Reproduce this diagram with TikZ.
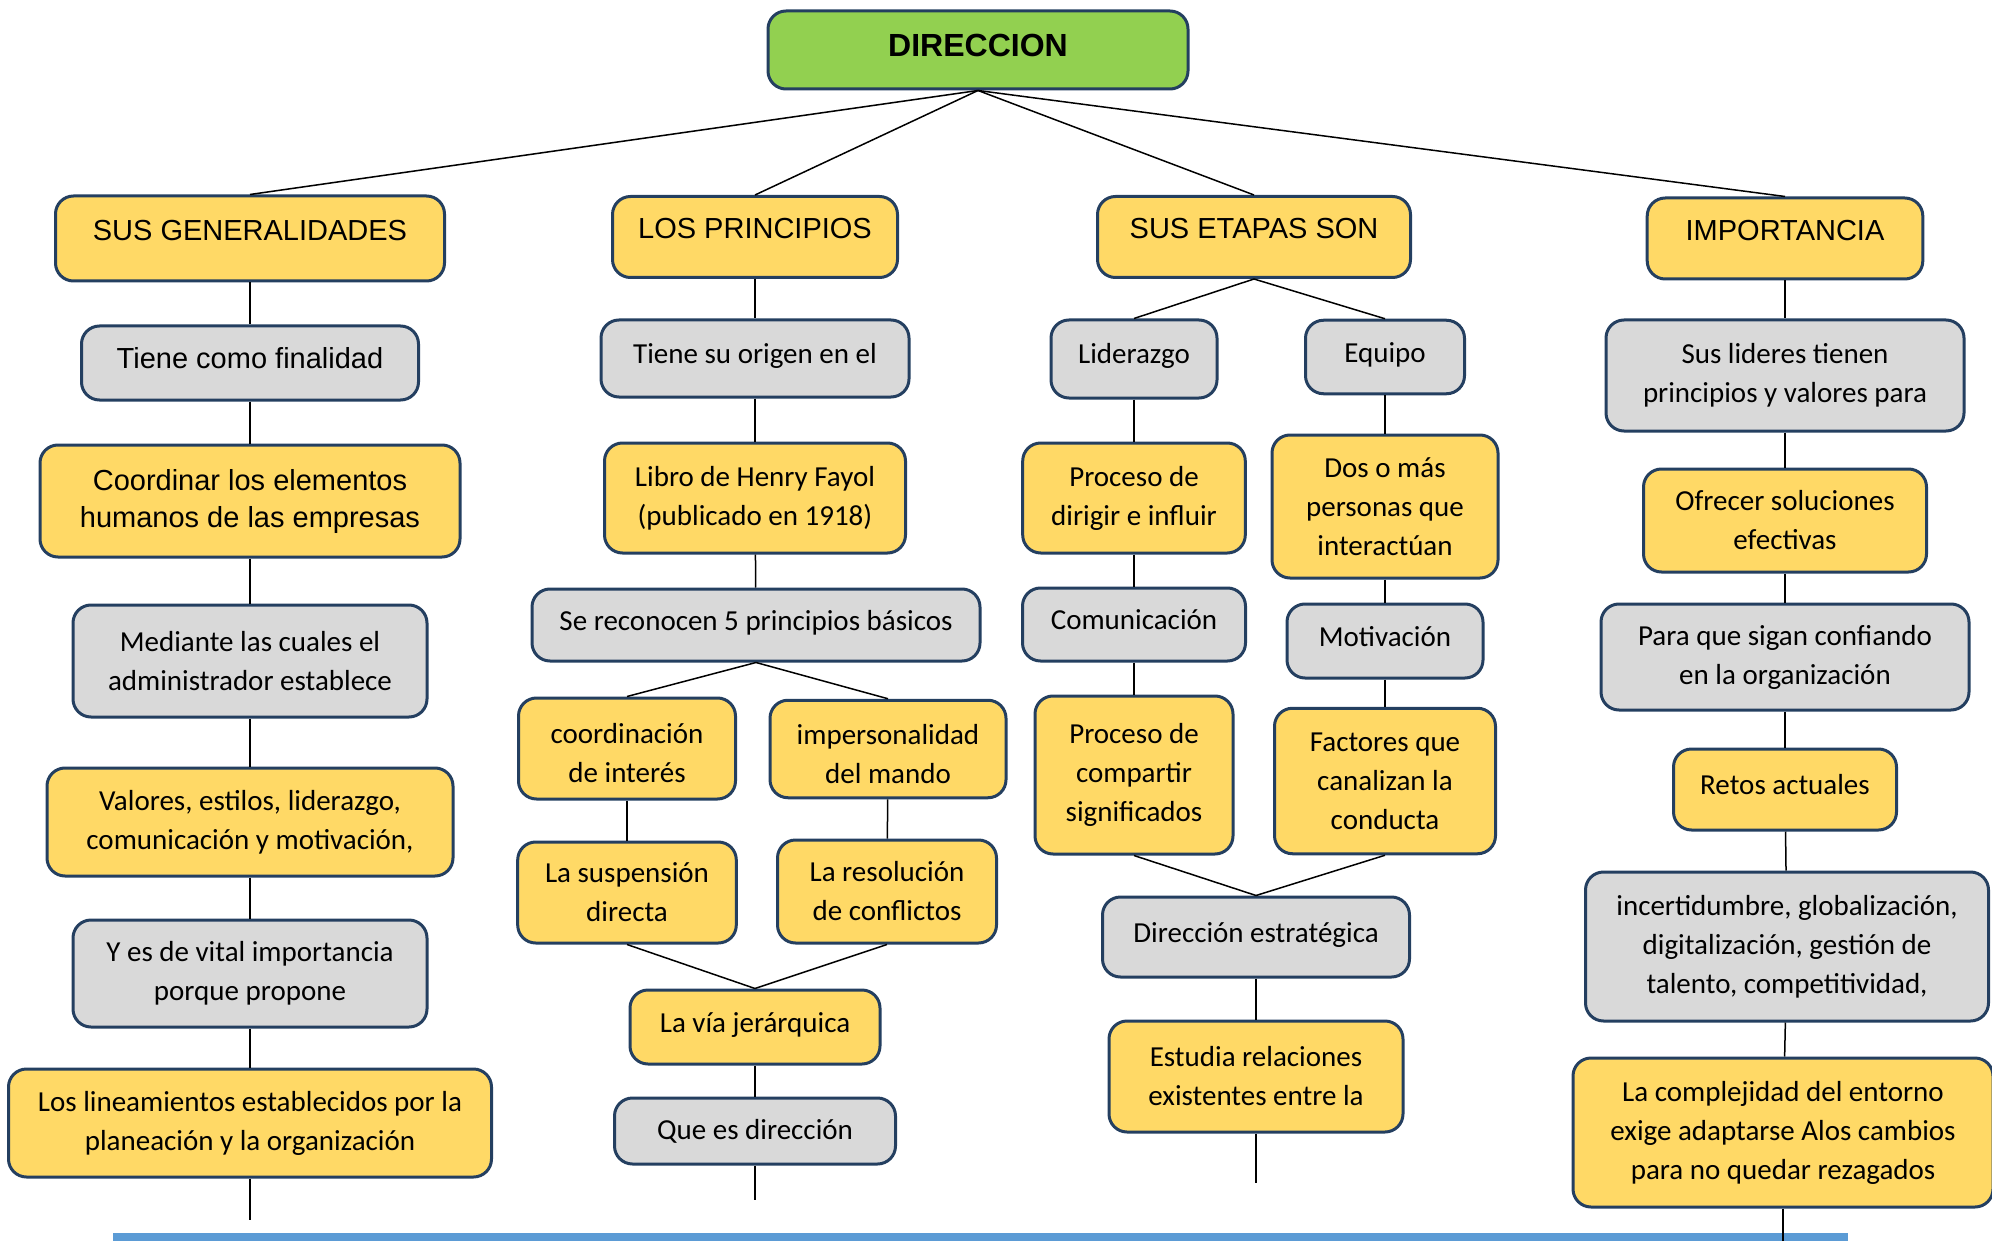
\documentclass[tikz,border=0pt]{standalone}
\usepackage{fontspec}
\setmainfont{Carlito}
\newfontfamily\arialtxt{Liberation Sans}
\definecolor{amarillo}{HTML}{FFD966}
\definecolor{grisclaro}{HTML}{D9D9D9}
\definecolor{verde}{HTML}{92D050}
\definecolor{borde}{HTML}{243F60}
\definecolor{barra}{HTML}{5B9BD5}

\begin{document}
\begin{tikzpicture}[x=0.5pt,y=-0.5pt,
	caja/.style={draw=borde, line width=1.5pt, rounded corners=9pt, align=center, inner sep=2pt, font=\fontsize{14.5}{19.5}\selectfont},
	amar/.style={caja, fill=amarillo},
	gri/.style={caja, fill=grisclaro},
	una/.style={text height=10.5pt, text depth=5.5pt},
	arial/.style={font=\arialtxt\fontsize{14.5}{18.5}\selectfont},
	titulo/.style={amar, arial, text height=11pt, text depth=9pt},
	linea/.style={black, line width=0.75pt}]
	\useasboundingbox (0,0) rectangle (1992,1241);
	\fill [barra] (113,1233) rectangle (1848,1241);
	\node [amar, fill=verde, font=\arialtxt\bfseries\fontsize{16}{19}\selectfont, text height=11.5pt, text depth=5pt, minimum width=210pt, minimum height=39pt] (dir) at (978,50) {DIRECCION};

	\node [titulo, minimum width=194.5pt, minimum height=42.5pt] (gen) at (250,238.5) {SUS GENERALIDADES};
	\node [gri, arial, una, minimum width=168.5pt, minimum height=37pt] (fin) at (250,363) {Tiene como finalidad};
	\node [amar, arial, minimum width=210pt, minimum height=56pt] (coor) at (250,501) {Coordinar los elementos\\humanos de las empresas};
	\node [gri, minimum width=177pt, minimum height=56pt] (med) at (250,661) {Mediante las cuales el\\administrador establece};
	\node [amar, minimum width=203pt, minimum height=54pt] (val) at (250,822) {Valores, estilos, liderazgo,\\comunicación y motivación,};
	\node [gri, minimum width=177pt, minimum height=53.5pt] (vital) at (250,973.5) {Y es de vital importancia\\porque propone};
	\node [amar, minimum width=241.5pt, minimum height=54pt] (lin) at (250,1123) {Los lineamientos establecidos por la\\planeación y la organización};
	\coordinate (fin1) at (250,1220);

	\node [titulo, minimum width=142.5pt, minimum height=40.5pt] (prin) at (755,237) {LOS PRINCIPIOS};
	\node [gri, una, minimum width=154pt, minimum height=38.5pt] (orig) at (755,358.5) {Tiene su origen en el};
	\node [amar, minimum width=150.5pt, minimum height=55pt] (libro) at (755,498) {Libro de Henry Fayol\\(publicado en 1918)};
	\node [gri, una, minimum width=224pt, minimum height=36pt] (reco) at (756,625) {Se reconocen 5 principios básicos};
	\node [amar, text height=34pt, minimum width=108.5pt, minimum height=50.5pt] (coordi) at (627,748.5) {coordinación\\de interés};
	\node [amar, text height=35pt, minimum width=118pt, minimum height=48.75pt] (imper) at (888,749) {impersonalidad\\del mando};
	\node [amar, minimum width=109.3pt, minimum height=50.5pt] (susp) at (627,892.5) {La suspensión\\directa};
	\node [amar, minimum width=109.5pt, minimum height=51.5pt] (reso) at (887,891.5) {La resolución\\de conflictos};
	\node [amar, una, minimum width=125pt, minimum height=37pt] (via) at (755,1027) {La vía jerárquica};
	\node [gri, minimum width=140.5pt, minimum height=33pt] (que) at (755,1131) {Que es dirección};
	\coordinate (fin2) at (755,1200);

	\node [titulo, minimum width=156.5pt, minimum height=40.5pt] (etap) at (1254,237) {SUS ETAPAS SON};
	\node [gri, una, minimum width=83pt, minimum height=39pt] (lid) at (1134,359) {Liderazgo};
	\node [gri, una, minimum width=79.5pt, minimum height=36.75pt] (equ) at (1385,357) {Equipo};
	\node [amar, minimum width=111.3pt, minimum height=55pt] (dirig) at (1134,498) {Proceso de\\dirigir e influir};
	\node [amar, minimum width=113pt, minimum height=71.5pt] (dos) at (1385,506.5) {Dos o más\\personas que\\interactúan};
	\node [gri, una, minimum width=111.5pt, minimum height=36.5pt] (comu) at (1134,624.5) {Comunicación};
	\node [gri, una, minimum width=98pt, minimum height=37pt] (moti) at (1385,641) {Motivación};
	\node [amar, minimum width=99pt, minimum height=79pt] (compa) at (1134,775) {Proceso de\\compartir\\significados};
	\node [amar, minimum width=110.5pt, minimum height=72.75pt] (fact) at (1385,781) {Factores que\\canalizan la\\conducta};
	\node [gri, una, minimum width=153.5pt, minimum height=40pt] (estr) at (1256,937) {Dirección estratégica};
	\node [amar, minimum width=147pt, minimum height=55.5pt] (estu) at (1256,1076.5) {Estudia relaciones\\existentes entre la};
	\coordinate (fin3) at (1256,1183);

	\node [titulo, minimum width=137.8pt, minimum height=40.5pt] (imp) at (1785,238.5) {IMPORTANCIA};
	\node [gri, minimum width=179pt, minimum height=55.5pt] (lide) at (1785,375.5) {Sus lideres tienen\\principios y valores para};
	\node [amar, minimum width=141.5pt, minimum height=51.5pt] (ofre) at (1785,520.5) {Ofrecer soluciones\\efectivas};
	\node [gri, minimum width=184pt, minimum height=53pt] (para) at (1785,657) {Para que sigan confiando\\en la organización};
	\node [amar, una, minimum width=111.5pt, minimum height=40.5pt] (retos) at (1785,789.5) {Retos actuales};
	\node [gri, minimum width=201.5pt, minimum height=74.5pt] (inc) at (1787,946.5) {incertidumbre, globalización,\\digitalización, gestión de\\talento, competitividad,};
	\node [amar, minimum width=210pt, minimum height=74.5pt] (comple) at (1783,1132.5) {La complejidad del entorno\\exige adaptarse Alos cambios\\para no quedar rezagados};
	\coordinate (fin4) at (1783,1241);

	\draw [linea] (dir.south) -- (gen.north);
	\draw [linea] (dir.south) -- (prin.north);
	\draw [linea] (dir.south) -- (etap.north);
	\draw [linea] (dir.south) -- (imp.north);

	\draw [linea] (gen) -- (fin);
	\draw [linea] (fin) -- (coor);
	\draw [linea] (coor) -- (med);
	\draw [linea] (med) -- (val);
	\draw [linea] (val) -- (vital);
	\draw [linea] (vital) -- (lin);
	\draw [linea] (lin) -- (fin1);

	\draw [linea] (prin) -- (orig);
	\draw [linea] (orig) -- (libro);
	\draw [linea] (libro) -- (reco);
	\draw [linea] (reco.south) -- (coordi.north);
	\draw [linea] (reco.south) -- (imper.north);
	\draw [linea] (coordi) -- (susp);
	\draw [linea] (imper) -- (reso);
	\draw [linea] (susp.south) -- (via.north);
	\draw [linea] (reso.south) -- (via.north);
	\draw [linea] (via) -- (que);
	\draw [linea] (que) -- (fin2);

	\draw [linea] (etap.south) -- (lid.north);
	\draw [linea] (etap.south) -- (equ.north);
	\draw [linea] (lid) -- (dirig);
	\draw [linea] (equ) -- (dos);
	\draw [linea] (dirig) -- (comu);
	\draw [linea] (dos) -- (moti);
	\draw [linea] (comu) -- (compa);
	\draw [linea] (moti) -- (fact);
	\draw [linea] (compa.south) -- (estr.north);
	\draw [linea] (fact.south) -- (estr.north);
	\draw [linea] (estr) -- (estu);
	\draw [linea] (estu) -- (fin3);

	\draw [linea] (imp) -- (lide);
	\draw [linea] (lide) -- (ofre);
	\draw [linea] (ofre) -- (para);
	\draw [linea] (para) -- (retos);
	\draw [linea] (retos) -- (inc);
	\draw [linea] (inc) -- (comple);
	\draw [linea] (comple) -- (fin4);
\end{tikzpicture}
\end{document}
